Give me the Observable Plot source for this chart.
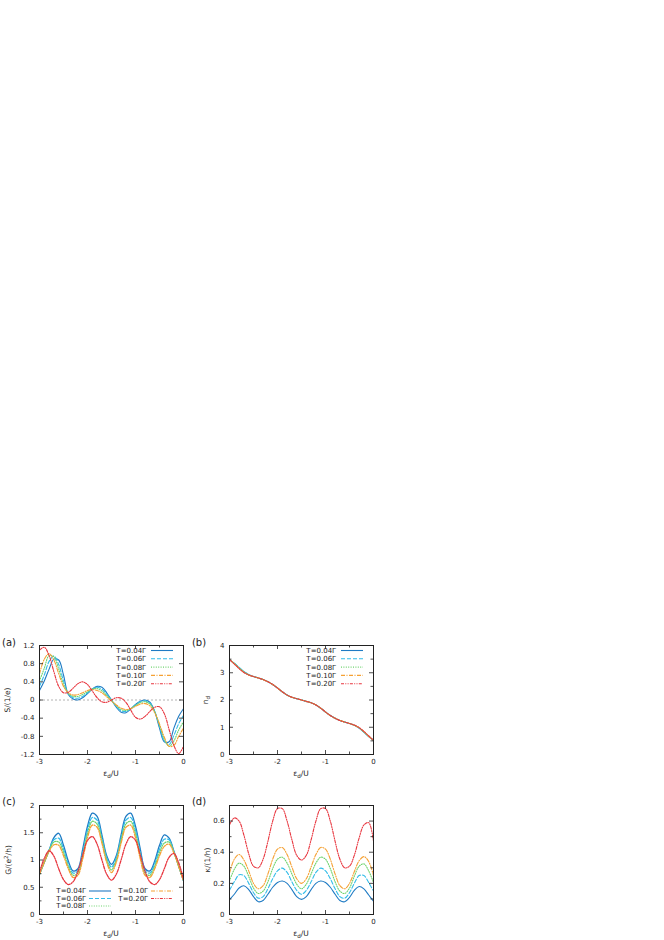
<!DOCTYPE html>
<html>
<head>
<meta charset="utf-8">
<script src="https://cdn.jsdelivr.net/npm/d3@7"></script>
<script src="https://cdn.jsdelivr.net/npm/@observablehq/plot@0.6"></script>
<style>
  html, body { margin: 0; padding: 0; background: #fff; overflow: hidden; }
  #fig { position: relative; width: 664px; height: 940px; font-family: "DejaVu Sans", sans-serif; color: #222; }
  .lbl { position: absolute; white-space: nowrap; line-height: 1; }
  sub { font-size: 75%; vertical-align: -0.25em; }
  sup { font-size: 75%; vertical-align: 0.45em; }
</style>
</head>
<body>
<div id="fig"></div>
<script>
// ---------- data ----------
const eps = [-3.0,-2.9,-2.8,-2.7,-2.6,-2.5,-2.4,-2.3,-2.2,-2.1,-2.0,-1.9,-1.8,-1.7,-1.6,-1.5,
             -1.4,-1.3,-1.2,-1.1,-1.0,-0.9,-0.8,-0.7,-0.6,-0.5,-0.4,-0.3,-0.2,-0.1,0.0];
const tempLabels = ["T=0.04Γ","T=0.06Γ","T=0.08Γ","T=0.10Γ","T=0.20Γ"];

// (a) thermopower S/(1/e)
const S_T004 = [0.21,0.42,0.68,0.90,0.88,0.55,0.12,0.02,0.00,0.05,0.14,0.24,0.30,0.28,0.16,0.00,-0.16,-0.27,-0.28,-0.20,-0.10,-0.03,0.00,-0.05,-0.25,-0.62,-0.92,-0.92,-0.62,-0.36,-0.19];
const S_T006 = [0.30,0.55,0.85,0.97,0.78,0.42,0.14,0.05,0.04,0.08,0.16,0.24,0.28,0.24,0.13,0.00,-0.14,-0.24,-0.25,-0.19,-0.11,-0.04,-0.02,-0.07,-0.25,-0.58,-0.90,-0.98,-0.78,-0.52,-0.34];
const S_T008 = [0.42,0.70,0.98,0.95,0.68,0.35,0.15,0.08,0.08,0.12,0.18,0.24,0.25,0.20,0.10,-0.01,-0.12,-0.21,-0.23,-0.19,-0.12,-0.06,-0.04,-0.09,-0.26,-0.55,-0.86,-1.02,-0.90,-0.66,-0.48];
const S_T010 = [0.57,0.90,1.02,0.88,0.58,0.30,0.16,0.11,0.12,0.16,0.21,0.23,0.21,0.16,0.07,-0.02,-0.11,-0.18,-0.21,-0.19,-0.14,-0.09,-0.08,-0.13,-0.28,-0.53,-0.82,-1.02,-1.00,-0.80,-0.62];
const S_T020 = [1.10,1.16,0.98,0.62,0.30,0.16,0.17,0.26,0.36,0.40,0.34,0.20,0.05,-0.04,-0.05,0.00,0.05,0.04,-0.05,-0.22,-0.38,-0.42,-0.36,-0.25,-0.16,-0.15,-0.30,-0.65,-1.00,-1.18,-1.02];

// (b) occupation n_d
const N_T004 = [3.48,3.34,3.18,3.03,2.93,2.86,2.81,2.75,2.67,2.57,2.44,2.30,2.18,2.10,2.05,2.00,1.95,1.90,1.82,1.70,1.56,1.43,1.33,1.25,1.19,1.14,1.07,0.97,0.82,0.66,0.52];
const N_T006 = [3.48,3.35,3.20,3.05,2.94,2.86,2.81,2.75,2.67,2.57,2.44,2.30,2.18,2.10,2.05,2.00,1.95,1.90,1.82,1.70,1.56,1.43,1.33,1.25,1.19,1.14,1.07,0.97,0.82,0.66,0.52];
const N_T008 = [3.48,3.34,3.18,3.03,2.93,2.86,2.81,2.75,2.67,2.57,2.44,2.30,2.18,2.10,2.05,2.00,1.95,1.90,1.82,1.70,1.56,1.43,1.33,1.25,1.19,1.14,1.07,0.98,0.83,0.67,0.52];
const N_T010 = [3.48,3.33,3.16,3.02,2.92,2.86,2.81,2.75,2.67,2.57,2.44,2.30,2.18,2.10,2.05,2.00,1.95,1.90,1.82,1.70,1.56,1.43,1.33,1.25,1.19,1.14,1.07,0.98,0.84,0.67,0.52];
const N_T020 = [3.48,3.32,3.15,3.01,2.92,2.86,2.81,2.75,2.67,2.57,2.44,2.30,2.18,2.10,2.05,2.00,1.95,1.90,1.82,1.70,1.56,1.43,1.33,1.25,1.19,1.14,1.08,0.99,0.85,0.68,0.52];

// (c) conductance G/(e^2/h)
const G_T004 = [0.74,0.96,1.18,1.41,1.49,1.27,0.98,0.80,0.84,1.20,1.62,1.86,1.80,1.46,1.08,0.92,1.08,1.46,1.80,1.86,1.62,1.20,0.84,0.80,0.98,1.27,1.46,1.40,1.16,0.89,0.62];
const G_T006 = [0.74,0.96,1.18,1.37,1.40,1.20,0.93,0.76,0.80,1.14,1.55,1.78,1.73,1.41,1.04,0.87,1.04,1.41,1.73,1.78,1.55,1.14,0.80,0.76,0.93,1.20,1.38,1.37,1.15,0.89,0.62];
const G_T008 = [0.74,0.96,1.17,1.33,1.33,1.14,0.88,0.72,0.76,1.08,1.48,1.71,1.66,1.36,1.00,0.82,1.00,1.36,1.66,1.71,1.48,1.08,0.76,0.72,0.88,1.14,1.31,1.33,1.14,0.88,0.62];
const G_T010 = [0.74,0.96,1.16,1.28,1.27,1.08,0.84,0.68,0.72,1.02,1.41,1.64,1.60,1.31,0.96,0.77,0.96,1.31,1.60,1.64,1.41,1.02,0.72,0.68,0.84,1.08,1.25,1.29,1.13,0.88,0.62];
const G_T020 = [0.78,1.03,1.17,1.07,0.84,0.64,0.55,0.60,0.79,1.09,1.36,1.43,1.29,1.00,0.74,0.63,0.74,1.00,1.29,1.43,1.36,1.09,0.79,0.60,0.55,0.64,0.84,1.05,1.12,0.95,0.64];

// (d) thermal conductance kappa/(1/h)
const K_T004 = [0.095,0.13,0.17,0.185,0.16,0.115,0.082,0.09,0.13,0.175,0.205,0.215,0.20,0.16,0.115,0.097,0.115,0.16,0.20,0.215,0.205,0.175,0.13,0.09,0.082,0.11,0.155,0.18,0.165,0.125,0.085];
const K_T006 = [0.155,0.21,0.255,0.25,0.20,0.14,0.105,0.115,0.165,0.23,0.28,0.298,0.27,0.21,0.155,0.13,0.155,0.21,0.27,0.298,0.28,0.23,0.165,0.115,0.105,0.14,0.20,0.25,0.25,0.205,0.15];
const K_T008 = [0.215,0.29,0.33,0.31,0.245,0.17,0.135,0.15,0.21,0.295,0.355,0.368,0.33,0.26,0.195,0.165,0.195,0.26,0.33,0.368,0.355,0.295,0.21,0.15,0.135,0.17,0.245,0.31,0.325,0.28,0.205];
const K_T010 = [0.265,0.355,0.385,0.35,0.28,0.20,0.165,0.185,0.26,0.355,0.42,0.43,0.385,0.305,0.23,0.20,0.23,0.305,0.385,0.43,0.42,0.355,0.26,0.185,0.165,0.20,0.275,0.345,0.372,0.34,0.25];
const K_T020 = [0.575,0.62,0.60,0.51,0.39,0.31,0.30,0.355,0.47,0.60,0.68,0.68,0.60,0.48,0.38,0.35,0.38,0.48,0.60,0.68,0.68,0.60,0.47,0.355,0.30,0.31,0.38,0.49,0.575,0.59,0.47];

// tick values
const xTickLabels = [-3,-2,-1,0];
const xMinorTicks = [-2.5,-1.5,-0.5];
const yTicksA = [-1.2,-0.8,-0.4,0,0.4,0.8,1.2];
const yTicksB = [0,1,2,3,4];
const yMinorB = [0.5,1.5,2.5,3.5];
const yTicksC = [0,0.5,1,1.5,2];
const yMinorC = [0.25,0.75,1.25,1.75];
const yTicksD = [0,0.2,0.4,0.6];
const yMinorD = [0.1,0.3,0.5];

// ---------- styles ----------
const colors = ["#1f7bc4","#33bde9","#6fd36f","#f5a133","#e8363f"];
const dashes = [null, "4,2", "1,1.4", "4,1.5,1,1.5", "3,1.3,1,1.3,1,1.3"];
const FONT = "'DejaVu Sans', sans-serif";
const INK = "#222";

const fig = document.getElementById("fig");
const fmt = d => String(Math.round(d * 100) / 100);

function makePanel(cfg) {
  const mL = 39, mR = 8, mT = 20, mB = 20, fw = 144, fh = 109;
  const W = mL + fw + mR, H = mT + fh + mB;
  const marks = [];
  if (cfg.zero) marks.push(Plot.ruleY([0], {stroke: "#a0a0a0", strokeWidth: 0.8, strokeDasharray: "2,2"}));
  cfg.series.forEach((vals, i) => {
    const data = eps.map((x, j) => ({x, y: vals[j]}));
    marks.push(Plot.line(data, {x: "x", y: "y", stroke: colors[i], strokeWidth: cfg.sw || 1.1,
      strokeDasharray: dashes[i], curve: "catmull-rom", clip: true}));
  });
  // inward ticks on all four sides
  marks.push(Plot.tickX(xTickLabels, {x: d => d, insetTop: fh - 4, stroke: INK, strokeWidth: 0.8}));
  marks.push(Plot.tickX(xTickLabels, {x: d => d, insetBottom: fh - 4, stroke: INK, strokeWidth: 0.8}));
  marks.push(Plot.tickX(xMinorTicks, {x: d => d, insetTop: fh - 2.5, stroke: INK, strokeWidth: 0.8}));
  marks.push(Plot.tickX(xMinorTicks, {x: d => d, insetBottom: fh - 2.5, stroke: INK, strokeWidth: 0.8}));
  marks.push(Plot.tickY(cfg.yTicks, {y: d => d, insetRight: fw - 4, stroke: INK, strokeWidth: 0.8}));
  marks.push(Plot.tickY(cfg.yTicks, {y: d => d, insetLeft: fw - 4, stroke: INK, strokeWidth: 0.8}));
  if (cfg.yMinor) {
    marks.push(Plot.tickY(cfg.yMinor, {y: d => d, insetRight: fw - 2.5, stroke: INK, strokeWidth: 0.8}));
    marks.push(Plot.tickY(cfg.yMinor, {y: d => d, insetLeft: fw - 2.5, stroke: INK, strokeWidth: 0.8}));
  }
  marks.push(Plot.frame({stroke: INK, strokeWidth: 1}));
  marks.push(Plot.axisX(xTickLabels, {tickSize: 0, tickPadding: 5, tickFormat: fmt, label: null, fontSize: 7}));
  marks.push(Plot.axisY(cfg.yTicks, {tickSize: 0, tickPadding: 5, tickFormat: fmt, label: null, fontSize: 7}));
  const svg = Plot.plot({
    width: W, height: H, marginLeft: mL, marginRight: mR, marginTop: mT, marginBottom: mB,
    x: {domain: [-3, 0]}, y: {domain: cfg.yDomain},
    style: {fontFamily: FONT, fontSize: "7px", color: INK, background: "transparent", overflow: "visible"},
    marks
  });
  svg.style.position = "absolute";
  svg.style.left = cfg.left + "px";
  svg.style.top = cfg.top + "px";
  fig.appendChild(svg);
  const frame = {L: cfg.left + mL, R: cfg.left + mL + fw, T: cfg.top + mT, B: cfg.top + mT + fh};
  return {svg, frame, ox: cfg.left, oy: cfg.top};
}

function legend(p, entries) {
  const g = d3.select(p.svg).append("g")
    .attr("font-family", FONT).attr("font-size", 7).attr("fill", INK);
  entries.forEach(e => {
    g.append("text").attr("x", e.tx - p.ox).attr("y", e.y - p.oy).attr("dy", "0.35em")
      .attr("text-anchor", "end").text(tempLabels[e.i]);
    g.append("line").attr("x1", e.s1 - p.ox).attr("x2", e.s2 - p.ox)
      .attr("y1", e.y - p.oy).attr("y2", e.y - p.oy)
      .attr("stroke", colors[e.i]).attr("stroke-width", 1.1)
      .attr("stroke-dasharray", dashes[e.i]);
  });
}

function label(html, x, y, size, rot) {
  const d = document.createElement("div");
  d.className = "lbl";
  d.innerHTML = html;
  d.style.left = x + "px";
  d.style.top = y + "px";
  d.style.fontSize = size + "px";
  d.style.transform = rot ? "translate(-50%,-50%) rotate(-90deg)" : "translate(-50%,-50%)";
  fig.appendChild(d);
}

const pa = makePanel({left: 0, top: 625, series: [S_T004,S_T006,S_T008,S_T010,S_T020],
  yDomain: [-1.2, 1.2], yTicks: yTicksA, zero: true});
const pb = makePanel({left: 190, top: 625, series: [N_T004,N_T006,N_T008,N_T010,N_T020],
  yDomain: [0, 4], yTicks: yTicksB, yMinor: yMinorB});
const pc = makePanel({left: 0, top: 785, series: [G_T004,G_T006,G_T008,G_T010,G_T020],
  yDomain: [0, 2], yTicks: yTicksC, yMinor: yMinorC, sw: 1.3});
const pd = makePanel({left: 190, top: 785, series: [K_T004,K_T006,K_T008,K_T010,K_T020],
  yDomain: [0, 0.7], yTicks: yTicksD, yMinor: yMinorD});

// legends
[pa, pb].forEach(p => {
  legend(p, [0,1,2,3,4].map(i => ({i, tx: p.frame.R - 37, s1: p.frame.R - 32, s2: p.frame.R - 10,
    y: p.frame.T + 5.5 + 8.3 * i})));
});
legend(pc, [
  {i: 0, tx: pc.frame.L + 47, s1: pc.frame.L + 50, s2: pc.frame.L + 72, y: pc.frame.B - 23},
  {i: 1, tx: pc.frame.L + 47, s1: pc.frame.L + 50, s2: pc.frame.L + 72, y: pc.frame.B - 15.5},
  {i: 2, tx: pc.frame.L + 47, s1: pc.frame.L + 50, s2: pc.frame.L + 72, y: pc.frame.B - 8},
  {i: 3, tx: pc.frame.L + 109, s1: pc.frame.L + 112, s2: pc.frame.L + 134, y: pc.frame.B - 23},
  {i: 4, tx: pc.frame.L + 109, s1: pc.frame.L + 112, s2: pc.frame.L + 134, y: pc.frame.B - 15.5}
]);

// panel tags and axis titles
const xTitle = "ε<sub>d</sub>/U";
label("(a)", 9, 643, 10); label("(b)", 199, 643, 10);
label("(c)", 9, 802, 10); label("(d)", 199, 802, 10);
[pa, pb, pc, pd].forEach(p => label(xTitle, (p.frame.L + p.frame.R) / 2, p.frame.B + 21, 7.5));
label("S/(1/e)", 8, (pa.frame.T + pa.frame.B) / 2, 7.5, true);
label("n<sub>d</sub>", 207, (pb.frame.T + pb.frame.B) / 2, 7.5, true);
label("G/(e<sup>2</sup>/h)", 8, (pc.frame.T + pc.frame.B) / 2, 7.5, true);
label("κ/(1/h)", 208, (pd.frame.T + pd.frame.B) / 2, 7.5, true);
</script>
</body>
</html>
